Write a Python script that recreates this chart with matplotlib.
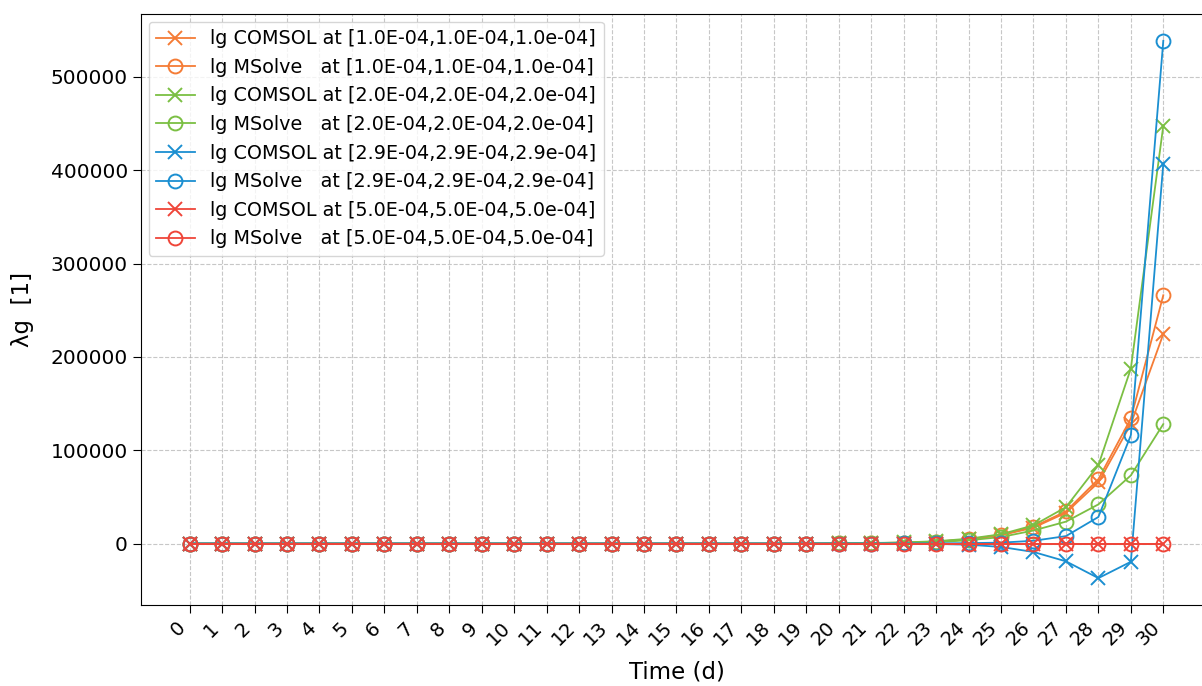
"""Growth-factor comparison, COMSOL vs MSolve, at four probe points."""

import matplotlib

matplotlib.use("Agg")

import matplotlib.pyplot as plt

days = list(range(31))
points = ["1.0", "2.0", "2.9", "5.0"]
colors = ["#f57c36", "#7bbf43", "#1b8fd1", "#ef4539"]

zeros = [0] * 20
comsol_1 = zeros + [300, 500, 1000, 2000, 4500, 9000, 17000, 33000, 65500, 128000, 224500]
msolve_1 = zeros + [300, 500, 1000, 2100, 4600, 9200, 18000, 34500, 69000, 134000, 266000]
comsol_2 = zeros + [300, 600, 1200, 2500, 5200, 10000, 19500, 39000, 84000, 187500, 447500]
msolve_2 = zeros + [200, 400, 800, 1600, 3500, 7000, 14000, 23500, 42000, 73000, 128000]
comsol_3 = zeros + [0, 0, -100, -400, -1200, -3600, -9000, -19000, -37000, -19500, 407000]
msolve_3 = zeros + [0, 0, 100, 200, 500, 1000, 3000, 8000, 28500, 116000, 538500]
comsol_4 = [0] * 31
msolve_4 = [0] * 31

comsol = [comsol_1, comsol_2, comsol_3, comsol_4]
msolve = [msolve_1, msolve_2, msolve_3, msolve_4]

fig = plt.figure(figsize=(12.02, 6.86), dpi=100)
ax = fig.add_axes([0.1173, 0.1181, 0.891, 0.8615])

for p, c, yc, ym in zip(points, colors, comsol, msolve):
    coord = f"[{p}E-04,{p}E-04,{p}e-04]"
    ax.plot(days, yc, color=c, marker="x", markersize=10, linewidth=1.3,
            markeredgewidth=1.4, label=f"lg COMSOL at {coord}")
    ax.plot(days, ym, color=c, marker="o", markersize=10, linewidth=1.3,
            markeredgewidth=1.4, fillstyle="none", label=f"lg MSolve   at {coord}")

ax.set_xticks(days)
ax.set_xticklabels([str(d) for d in days], rotation=45, ha="right", fontsize=14)
ax.tick_params(axis="y", labelsize=14.5)
ax.tick_params(length=6)
ax.set_xlabel("Time (d)", fontsize=16.5, labelpad=8)
ax.set_ylabel("λg  [1]", fontsize=16.5, labelpad=12)
ax.grid(True, linestyle="--", color="#b0b0b0", alpha=0.7)
ax.legend(loc="upper left", fontsize=13.8, borderaxespad=0.4, labelspacing=0.5)

fig.savefig("out.png", dpi=100)
